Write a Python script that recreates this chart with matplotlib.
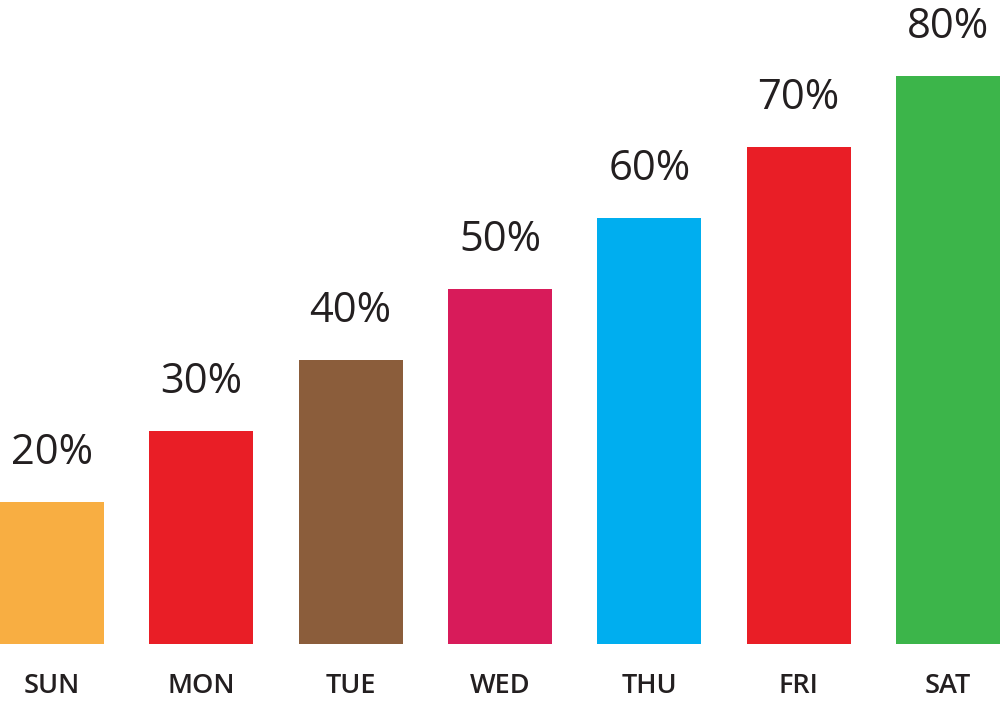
import matplotlib
matplotlib.use('Agg')
import matplotlib.pyplot as plt

# Data
days = ['SUN', 'MON', 'TUE', 'WED', 'THU', 'FRI', 'SAT']
values = [20, 30, 40, 50, 60, 70, 80]
colors = ['#F8AE42', '#E91E26', '#8B5D3B', '#D81B5A', '#00AEEF', '#E91E26', '#3CB54A']

plt.rcParams['font.family'] = ['Open Sans', 'DejaVu Sans']

fig = plt.figure(figsize=(10, 7.01), dpi=100)
ax = fig.add_axes([0, 0, 1, 1])

x = list(range(len(days)))
width = 0.696
ax.bar(x, values, width=width, color=colors)

# percent labels above the bars
for xi, v in zip(x, values):
    ax.text(xi, v + 5.3, f'{v}%', ha='center', va='baseline',
            fontsize=30, color='#231F20')

# day labels under the bars
for xi, d in zip(x, days):
    ax.text(xi, -6.9, d, ha='center', va='baseline',
            fontsize=19.5, fontweight='semibold', color='#231F20')

ax.set_xlim(-width / 2, len(days) - 1 + width / 2)
ax.set_ylim(-57 / 7.1, 644 / 7.1)
ax.axis('off')

fig.savefig('out.png', dpi=100, facecolor='white')
